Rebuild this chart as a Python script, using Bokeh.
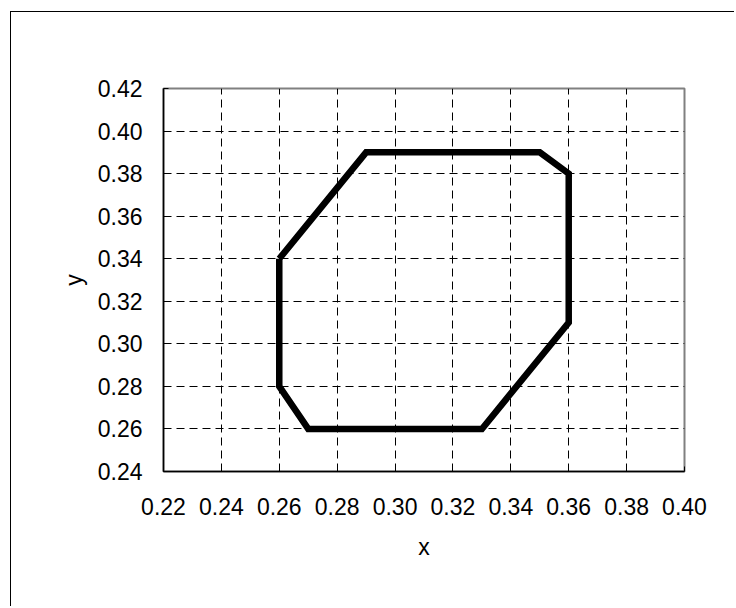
from bokeh.plotting import figure
from bokeh.models import FixedTicker, Range1d, NumeralTickFormatter
from bokeh.embed import file_html
from bokeh.resources import INLINE

# Data: closed polygon outline
x_vals = [0.26, 0.29, 0.35, 0.36, 0.36, 0.33, 0.27, 0.26, 0.26]
y_vals = [0.34, 0.39, 0.39, 0.38, 0.31, 0.26, 0.26, 0.28, 0.34]

x_ticks = [0.22, 0.24, 0.26, 0.28, 0.30, 0.32, 0.34, 0.36, 0.38, 0.40]
y_ticks = [0.24, 0.26, 0.28, 0.30, 0.32, 0.34, 0.36, 0.38, 0.40, 0.42]

FONT = "Liberation Sans"

p = figure(width=724, height=595, output_backend="svg", toolbar_location=None,
           x_range=Range1d(0.22, 0.40), y_range=Range1d(0.24, 0.42),
           min_border_left=152, min_border_right=51, min_border_top=76, min_border_bottom=136)

p.styles = {"border-left": "1.5px solid black", "border-top": "1.5px solid black",
            "margin-left": "10px", "margin-top": "11px"}

p.background_fill_color = "white"
p.border_fill_color = "white"
p.outline_line_color = "#808080"
p.outline_line_width = 2

for ax, ticks in ((p.xaxis, x_ticks), (p.yaxis, y_ticks)):
    ax.ticker = FixedTicker(ticks=ticks)
    ax.formatter = NumeralTickFormatter(format="0.00")
    ax.axis_line_color = "black"
    ax.axis_line_width = 1.5
    ax.major_tick_in = 5
    ax.major_tick_out = 0
    ax.major_tick_line_color = "black"
    ax.minor_tick_line_color = None
    ax.major_label_text_font = FONT
    ax.major_label_text_font_size = "23px"
    ax.major_label_text_color = "black"
    ax.axis_label_text_font = FONT
    ax.axis_label_text_font_size = "23px"
    ax.axis_label_text_font_style = "normal"
    ax.axis_label_text_color = "black"

p.xaxis.axis_label = "x"
p.yaxis.axis_label = "y"
p.xaxis.major_label_standoff = 26
p.yaxis.major_label_standoff = 21
p.xaxis.axis_label_standoff = 16
p.yaxis.axis_label_standoff = 8

p.xgrid.ticker = FixedTicker(ticks=x_ticks)
p.ygrid.ticker = FixedTicker(ticks=y_ticks)
for g in (p.xgrid, p.ygrid):
    g.grid_line_color = "black"
    g.grid_line_width = 1
    g.grid_line_dash = "8 5"

p.line(x_vals, y_vals, line_color="black", line_width=6.5, line_join="miter")

open("out.html", "w").write(file_html(p, INLINE))
